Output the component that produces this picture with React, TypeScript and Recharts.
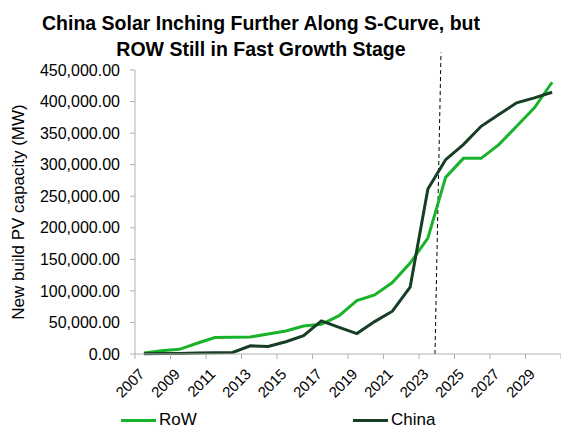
import React from 'react';
import { LineChart, Line, XAxis, YAxis, Legend, ReferenceLine } from 'recharts';

const years = [
  2007, 2008, 2009, 2010, 2011, 2012, 2013, 2014, 2015, 2016, 2017, 2018,
  2019, 2020, 2021, 2022, 2023, 2024, 2025, 2026, 2027, 2028, 2029, 2030,
];
const rowValues = [
  1500, 5200, 7400, 17000, 26000, 26500, 27000, 31700, 36500, 44400, 47100, 60800,
  84600, 93700, 113200, 144000, 183700, 279900, 310000, 310000, 331700, 360800, 390000, 430600,
];
const chinaValues = [
  500, 600, 700, 1500, 2000, 2500, 13000, 12000, 19500, 29000, 52400, 42300,
  32300, 51300, 67800, 105800, 261400, 308000, 331700, 360800, 379400, 398000, 405900, 414800,
];
const yTicks = [0, 50000, 100000, 150000, 200000, 250000, 300000, 350000, 400000, 450000];
// tick marks sit between categories, every second year
const xTicks = [2006.5, 2008.5, 2010.5, 2012.5, 2014.5, 2016.5, 2018.5, 2020.5, 2022.5, 2024.5, 2026.5, 2028.5, 2030.5];

const data = years.map((year, i) => ({ year, RoW: rowValues[i], China: chinaValues[i] }));

const ROW_COLOR = '#19b32b';
const CHINA_COLOR = '#173d25';
const AXIS_COLOR = '#b0b0b0';
const FONT = 'Arial, "Liberation Sans", sans-serif';

const fmt = (v: number) =>
  v.toLocaleString('en-US', { minimumFractionDigits: 2, maximumFractionDigits: 2 });

const XTick = (props: any) => {
  const { x, y, payload } = props;
  const label = payload.value + 0.5;
  if (label > 2029) return null;
  const px = x + 10.5;
  const py = y + 16;
  return (
    <text
      x={px}
      y={py}
      textAnchor="end"
      fontSize={15}
      fontFamily={FONT}
      fill="#000"
      transform={`rotate(-45, ${px}, ${py})`}
    >
      {label}
    </text>
  );
};

const LegendContent = () => (
  <div style={{ position: 'relative', height: 22, fontFamily: FONT, fontSize: 17, color: '#000' }}>
    <div style={{ position: 'absolute', left: 121, top: 10, width: 35, height: 3, background: ROW_COLOR }} />
    <span style={{ position: 'absolute', left: 159, top: 0, lineHeight: '22px' }}>RoW</span>
    <div style={{ position: 'absolute', left: 353, top: 10, width: 35, height: 3, background: CHINA_COLOR }} />
    <span style={{ position: 'absolute', left: 391, top: 0, lineHeight: '22px' }}>China</span>
  </div>
);

export default function App() {
  return (
    <div style={{ position: 'absolute', left: 0, top: 0, width: 561, height: 428, background: '#fff' }}>
      <div
        style={{
          position: 'absolute',
          left: 0,
          top: 10,
          width: 522,
          textAlign: 'center',
          fontFamily: FONT,
          fontWeight: 'bold',
          fontSize: 19.5,
          lineHeight: '26px',
          color: '#000',
        }}
      >
        China Solar Inching Further Along S-Curve, but
        <br />
        ROW Still in Fast Growth Stage
      </div>
      <LineChart width={561} height={428} data={data} margin={{ top: 70, right: 0, bottom: 0, left: 0 }}>
        <XAxis
          dataKey="year"
          type="number"
          domain={[2006.5, 2030.5]}
          ticks={xTicks}
          interval={0}
          height={74}
          tickSize={5}
          tickMargin={0}
          stroke={AXIS_COLOR}
          tick={<XTick />}
        />
        <YAxis
          domain={[0, 450000]}
          ticks={yTicks}
          interval={0}
          width={135}
          tickSize={5}
          tickMargin={10}
          stroke={AXIS_COLOR}
          tickFormatter={fmt}
          tick={{ fill: '#000', fontSize: 16, fontFamily: FONT }}
          label={{
            value: 'New build PV capacity (MW)',
            angle: -90,
            position: 'center',
            dx: -50,
            style: { fill: '#000', fontSize: 17, fontFamily: FONT },
          }}
        />
        <ReferenceLine
          segment={[{ x: 2023.4, y: 0 }, { x: 2023.74, y: 477800 }]}
          ifOverflow="visible"
          stroke="#000"
          strokeWidth={1}
          strokeDasharray="4 3"
        />
        <Line dataKey="RoW" stroke={ROW_COLOR} strokeWidth={3} dot={false} isAnimationActive={false} />
        <Line dataKey="China" stroke={CHINA_COLOR} strokeWidth={3} dot={false} isAnimationActive={false} />
        <Legend
          layout="horizontal"
          verticalAlign="middle"
          align="center"
          content={<LegendContent />}
          wrapperStyle={{ left: 0, top: 409, width: 561, height: 22 }}
        />
      </LineChart>
    </div>
  );
}
